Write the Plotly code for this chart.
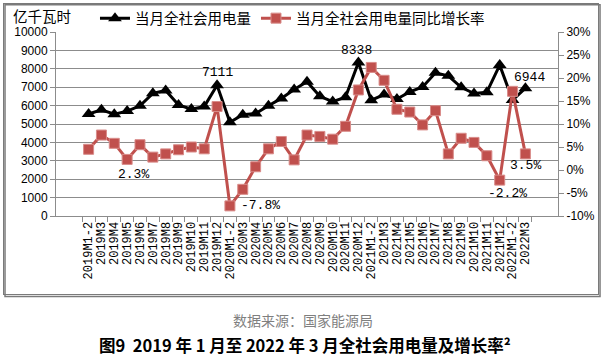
import plotly.graph_objects as go

categories = ["2019M1-2", "2019M3", "2019M4", "2019M5", "2019M6", "2019M7", "2019M8", "2019M9",
              "2019M10", "2019M11", "2019M12", "2020M1-2", "2020M3", "2020M4", "2020M5", "2020M6",
              "2020M7", "2020M8", "2020M9", "2020M10", "2020M11", "2020M12", "2021M1-2", "2021M3",
              "2021M4", "2021M5", "2021M6", "2021M7", "2021M8", "2021M9", "2021M10", "2021M11",
              "2021M12", "2022M1-2", "2022M3"]

power = [5546, 5773, 5534, 5700, 5990, 6666, 6822, 6032, 5810, 5948, 7111, 5097, 5500, 5572,
         5990, 6390, 6880, 7294, 6505, 6220, 6460, 8338, 6294, 6600, 6361, 6740, 7017, 7780,
         7620, 6995, 6655, 6730, 8200, 6300, 6944]

growth = [4.5, 7.6, 5.8, 2.3, 5.5, 2.8, 3.5, 4.4, 5.0, 4.6, 13.8, -7.8, -4.2, 0.7, 4.6, 6.2,
          2.2, 7.6, 7.3, 6.7, 9.5, 17.4, 22.3, 19.5, 13.2, 12.6, 9.8, 12.9, 3.5, 6.9, 6.0, 3.1,
          -2.2, 17.1, 3.5]

left_ticks = list(range(0, 10001, 1000))
left_labels = [str(v) for v in left_ticks]
right_ticks = list(range(-10, 31, 5))
right_labels = [f"{v}%" for v in right_ticks]

name_power = "当月全社会用电量"
name_growth = "当月全社会用电量同比增长率"
unit_label = "亿千瓦时"
source_text = "数据来源：国家能源局"
title_text = "图9  2019 年 1 月至 2022 年 3 月全社会用电量及增长率²"

BLACK = "#000000"
RED = "#C0504D"
GRID = "#8c8c8c"
FRAME = "#7a7a7a"
CJK = "Noto Sans CJK SC"
MONO = "Liberation Mono"

fig = go.Figure()
fig.add_trace(go.Scatter(
    x=categories, y=power, name=name_power, mode="lines+markers",
    line=dict(color=BLACK, width=3),
    marker=dict(symbol="triangle-up", size=12, color=BLACK),
    yaxis="y",
))
fig.add_trace(go.Scatter(
    x=categories, y=growth, name=name_growth, mode="lines+markers",
    line=dict(color=RED, width=3),
    marker=dict(symbol="square", size=10, color=RED, line=dict(color="#d98c8a", width=1)),
    yaxis="y2",
))

# data labels tied to data points
labels = [
    (10, "y", power, "7111", 0, 13),
    (21, "y", power, "8338", -2, 12),
    (34, "y", power, "6944", 4, 11),
    (3, "y2", growth, "2.3%", 6, -15),
    (11, "y2", growth, "-7.8%", 31, 0),
    (32, "y2", growth, "-2.2%", 8, -13),
    (34, "y2", growth, "3.5%", 0, -12),
]
for idx, yref, arr, txt, xs, ys in labels:
    fig.add_annotation(x=categories[idx], y=arr[idx], xref="x", yref=yref, text=txt,
                       showarrow=False, xshift=xs, yshift=ys,
                       font=dict(family=MONO, size=13, color="#000000"))

fig.add_annotation(xref="paper", yref="paper", x=-0.09, y=1.09, text=unit_label,
                   showarrow=False, xanchor="left", yanchor="middle",
                   font=dict(family=CJK, size=14.5, color="#000000"))
fig.add_annotation(xref="paper", yref="paper", x=0.492, y=-0.565, text=source_text,
                   showarrow=False, xanchor="center", yanchor="middle",
                   font=dict(family=CJK, size=14, color="#7f7f7f"))
fig.add_annotation(xref="paper", yref="paper", x=0.497, y=-0.70, text="<b>" + title_text + "</b>",
                   showarrow=False, xanchor="center", yanchor="middle",
                   font=dict(family=CJK, size=16.5, color="#000000"))

fig.update_layout(
    width=605, height=357,
    margin=dict(l=56, r=47, t=32, b=141, autoexpand=False),
    paper_bgcolor="white", plot_bgcolor="white",
    showlegend=True,
    legend=dict(orientation="h", xref="container", yref="container", x=0.157, y=0.949,
                xanchor="left", yanchor="middle",
                font=dict(family=CJK, size=14.5, color="#000000"),
                bgcolor="rgba(0,0,0,0)", itemwidth=30, tracegroupgap=0),
    xaxis=dict(type="category", tickmode="array", tickvals=categories, ticktext=categories,
               tickangle=-90, showgrid=False, showline=True,
               linecolor=GRID, linewidth=1, ticks="outside", tickson="boundaries",
               ticklen=5, tickcolor=GRID,
               tickfont=dict(family=MONO, size=12, color="#000000"), automargin=False),
    yaxis=dict(range=[0, 10000], tickmode="array", tickvals=left_ticks, ticktext=left_labels,
               showgrid=True, gridcolor=GRID,
               gridwidth=1, showline=True, linecolor=GRID, ticks="outside", ticklen=5,
               tickcolor=GRID, zeroline=False,
               tickfont=dict(family="Liberation Sans", size=12, color="#000000"),
               automargin=False),
    yaxis2=dict(range=[-10, 30], tickmode="array", tickvals=right_ticks, ticktext=right_labels,
                overlaying="y", side="right", showgrid=False, showline=True,
                linecolor=GRID, ticks="outside", ticklen=5, tickcolor=GRID, zeroline=False,
                tickfont=dict(family="Liberation Sans", size=12, color="#000000"),
                automargin=False),
    shapes=[dict(type="rect", xref="paper", yref="paper", x0=-0.1016, x1=1.0837,
                 y0=-0.437, y1=1.148, line=dict(color=FRAME, width=1.5))],
)

post = (
    "document.body.style.margin='0';"
    "var gd=document.getElementById('{plot_id}');"
    "gd.style.position='relative';"
    "var f=document.createElement('div');"
    "f.style.cssText='position:absolute;left:3px;top:3px;width:596px;height:292px;"
    "border:1.5px solid " + FRAME + ";pointer-events:none;box-sizing:border-box;';"
    "gd.appendChild(f);"
)
fig.write_html("out.html", config={"displayModeBar": False}, post_script=post)
